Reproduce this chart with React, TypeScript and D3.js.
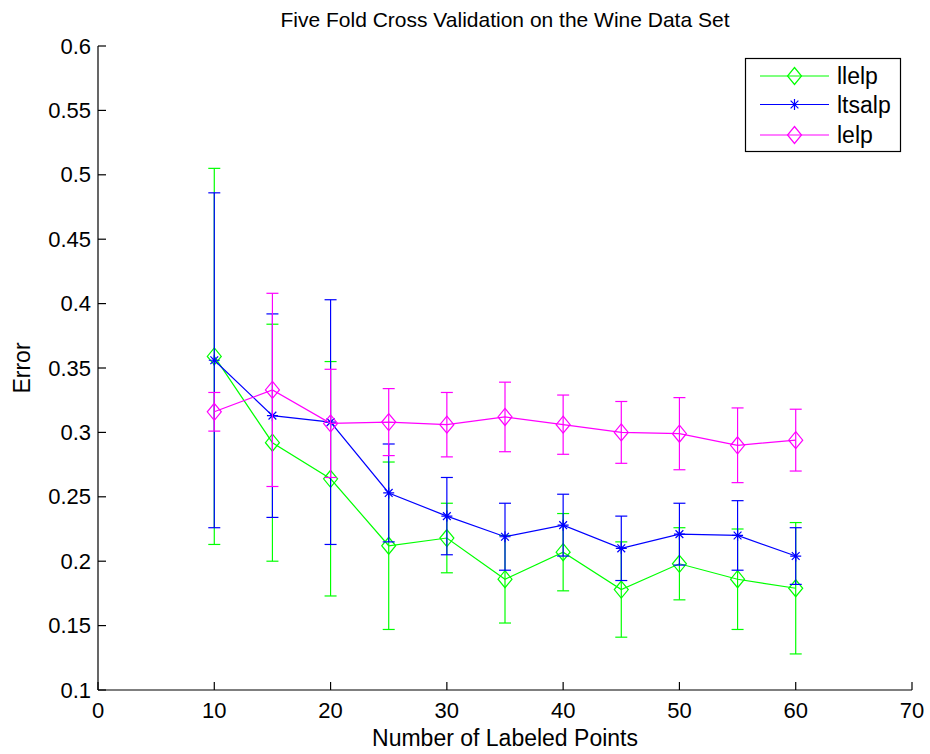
import React from "react";
import * as d3 from "d3";

const xValues = [10, 15, 20, 25, 30, 35, 40, 45, 50, 55, 60];
const llelpMean = [0.359, 0.292, 0.264, 0.212, 0.218, 0.186, 0.207, 0.178, 0.198, 0.186, 0.179];
const llelpErr = [0.146, 0.092, 0.091, 0.065, 0.027, 0.034, 0.03, 0.037, 0.028, 0.039, 0.051];
const ltsalpMean = [0.356, 0.313, 0.308, 0.253, 0.235, 0.219, 0.228, 0.21, 0.221, 0.22, 0.204];
const ltsalpErr = [0.13, 0.079, 0.095, 0.038, 0.03, 0.026, 0.024, 0.025, 0.024, 0.027, 0.022];
const lelpMean = [0.316, 0.333, 0.307, 0.308, 0.306, 0.312, 0.306, 0.3, 0.299, 0.29, 0.294];
const lelpErr = [0.015, 0.075, 0.042, 0.026, 0.025, 0.027, 0.023, 0.024, 0.028, 0.029, 0.024];
const xTicks = [0, 10, 20, 30, 40, 50, 60, 70];
const yTicks = [0.1, 0.15, 0.2, 0.25, 0.3, 0.35, 0.4, 0.45, 0.5, 0.55, 0.6];
const seriesNames = ["llelp", "ltsalp", "lelp"];

const series = [
  { name: seriesNames[0], mean: llelpMean, err: llelpErr, color: "#00ff00", marker: "diamond" },
  { name: seriesNames[1], mean: ltsalpMean, err: ltsalpErr, color: "#0000ff", marker: "star" },
  { name: seriesNames[2], mean: lelpMean, err: lelpErr, color: "#ff00ff", marker: "diamond" },
];

const W = 930;
const H = 754;
const left = 98;
const right = 912;
const top = 46;
const bottom = 690;
const FONT = "'Liberation Sans', Arial, Helvetica, sans-serif";
const TICK_FS = 22;
const LABEL_FS = 23;
const TITLE_FS = 21;

function Marker({ type, x, y, color }: { type: string; x: number; y: number; color: string }) {
  if (type === "diamond") {
    const hw = 7, hh = 8.5;
    return (
      <path
        d={`M${x},${y - hh}L${x + hw},${y}L${x},${y + hh}L${x - hw},${y}Z`}
        fill="none"
        stroke={color}
        strokeWidth={1.2}
      />
    );
  }
  const r = 5.5;
  const d = r * 0.707;
  return (
    <path
      d={`M${x - r},${y}L${x + r},${y}M${x},${y - r}L${x},${y + r}M${x - d},${y - d}L${x + d},${y + d}M${x - d},${y + d}L${x + d},${y - d}`}
      stroke={color}
      strokeWidth={1.2}
      fill="none"
    />
  );
}

export default function App() {
  const xScale = d3.scaleLinear().domain([0, 70]).range([left, right]);
  const yScale = d3.scaleLinear().domain([0.1, 0.6]).range([bottom, top]);
  const line = d3
    .line<number>()
    .x((_, i) => xScale(xValues[i]))
    .y((d) => yScale(d));
  const cap = 6;
  const tickLen = 8;

  return (
    <svg
      width={W}
      height={H}
      style={{ position: "absolute", left: 0, top: 0, background: "#fff" }}
      fontFamily={FONT}
    >
      <rect x={0} y={0} width={W} height={H} fill="#fff" />
      {series.map((s) => (
        <g key={s.name}>
          {s.mean.map((m, i) => {
            const x = xScale(xValues[i]);
            const y1 = yScale(m + s.err[i]);
            const y2 = yScale(m - s.err[i]);
            return (
              <g key={i} stroke={s.color} strokeWidth={1.2}>
                <line x1={x} x2={x} y1={y1} y2={y2} />
                <line x1={x - cap} x2={x + cap} y1={y1} y2={y1} />
                <line x1={x - cap} x2={x + cap} y1={y2} y2={y2} />
              </g>
            );
          })}
          <path d={line(s.mean) || ""} fill="none" stroke={s.color} strokeWidth={1.2} />
          {s.mean.map((m, i) => (
            <Marker key={i} type={s.marker} x={xScale(xValues[i])} y={yScale(m)} color={s.color} />
          ))}
        </g>
      ))}
      <g stroke="#000" strokeWidth={1.2}>
        <line x1={left} x2={right} y1={bottom} y2={bottom} />
        <line x1={left} x2={left} y1={top} y2={bottom} />
        {xTicks.map((t) => (
          <line key={t} x1={xScale(t)} x2={xScale(t)} y1={bottom} y2={bottom - tickLen} />
        ))}
        {yTicks.map((t) => (
          <line key={t} x1={left} x2={left + tickLen} y1={yScale(t)} y2={yScale(t)} />
        ))}
      </g>
      <g fill="#000">
        {xTicks.map((t) => (
          <text key={t} x={xScale(t)} y={bottom + 28} textAnchor="middle" fontSize={TICK_FS}>
            {t}
          </text>
        ))}
        {yTicks.map((t) => (
          <text key={t} x={left - 7} y={yScale(t)} textAnchor="end" dominantBaseline="central" fontSize={TICK_FS}>
            {d3.format("")(+t.toFixed(2))}
          </text>
        ))}
        <text x={(left + right) / 2} y={746} textAnchor="middle" fontSize={LABEL_FS}>
          Number of Labeled Points
        </text>
        <text transform={`translate(30,${(top + bottom) / 2}) rotate(-90)`} textAnchor="middle" fontSize={LABEL_FS}>
          Error
        </text>
        <text x={(left + right) / 2} y={27} textAnchor="middle" fontSize={TITLE_FS}>
          Five Fold Cross Validation on the Wine Data Set
        </text>
      </g>
      <g>
        <rect x={745.5} y={58.5} width={155} height={93} fill="#fff" stroke="#000" strokeWidth={1.2} />
        {series.map((s, i) => {
          const y = [76, 104.5, 135][i];
          return (
            <g key={s.name}>
              <line x1={760} x2={829} y1={y} y2={y} stroke={s.color} strokeWidth={1.2} />
              <Marker type={s.marker} x={794.5} y={y} color={s.color} />
              <text x={837} y={y} dominantBaseline="central" fontSize={LABEL_FS} fill="#000">
                {s.name}
              </text>
            </g>
          );
        })}
      </g>
    </svg>
  );
}
